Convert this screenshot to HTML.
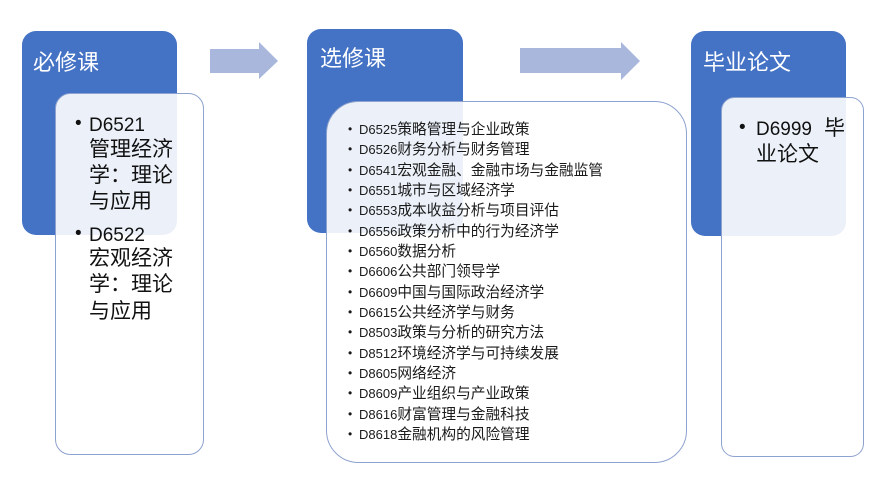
<!DOCTYPE html>
<html>
<head>
<meta charset="utf-8">
<style>
  html,body{margin:0;padding:0;background:#fff;}
  body{width:884px;height:484px;position:relative;overflow:hidden;
    font-family:"Liberation Sans","Noto Sans CJK SC",sans-serif;}
  svg{position:absolute;left:0;top:0;}
  .t{position:absolute;white-space:nowrap;}
  .hdr{color:#fff;font-size:22px;height:30px;line-height:30px;font-family:"Liberation Sans","Noto Sans CJK SC",sans-serif;}
  .big{color:#111;font-size:21px;height:26px;line-height:26px;font-family:"Noto Sans CJK SC",sans-serif;}
  .big .l{font-family:"Liberation Sans",sans-serif;font-size:19px;}
  .sm{color:#1a1a1a;font-size:14.7px;height:20px;line-height:20px;font-family:"Noto Sans CJK SC",sans-serif;}
  .sm .l{font-family:"Liberation Sans",sans-serif;font-size:13px;}
  .b{position:absolute;font-family:"Liberation Sans",sans-serif;}
</style>
</head>
<body>
<svg width="884" height="484" viewBox="0 0 884 484">
  <rect x="22" y="31" width="155" height="204" rx="14" ry="14" fill="#4472C4"/>
  <rect x="307" y="29" width="156" height="204" rx="14" ry="14" fill="#4472C4"/>
  <rect x="691" y="31" width="155" height="205" rx="14" ry="14" fill="#4472C4"/>
  <polygon points="210,49 259,49 259,42 278,61 259,79 259,73 210,73" fill="#A9B7DD"/>
  <polygon points="520,48 621,48 621,42 640,61 621,80 621,73 520,73" fill="#A9B7DD"/>
  <rect x="55.5" y="93.5" width="148" height="361" rx="15" ry="15" fill="#ffffff" fill-opacity="0.9" stroke="#8EA2CF" stroke-width="1"/>
  <rect x="326.5" y="101.5" width="360" height="361" rx="32" ry="32" fill="#ffffff" fill-opacity="0.9" stroke="#8EA2CF" stroke-width="1"/>
  <rect x="721.5" y="97.5" width="142" height="359" rx="13" ry="13" fill="#ffffff" fill-opacity="0.9" stroke="#8EA2CF" stroke-width="1"/>
</svg>

<div class="t hdr" style="left:33px;top:48px;">必修课</div>
<div class="t hdr" style="left:320px;top:44px;">选修课</div>
<div class="t hdr" style="left:703px;top:48px;">毕业论文</div>

<div class="b" style="left:75px;top:111px;font-size:19px;line-height:26px;color:#111;">•</div>
<div class="t big" style="left:89px;top:110px;"><span class="l">D6521</span></div>
<div class="t big" style="left:89px;top:135px;">管理经济</div>
<div class="t big" style="left:89px;top:161px;">学：理论</div>
<div class="t big" style="left:89px;top:187px;">与应用</div>
<div class="b" style="left:75px;top:221px;font-size:19px;line-height:26px;color:#111;">•</div>
<div class="t big" style="left:89px;top:220px;"><span class="l">D6522</span></div>
<div class="t big" style="left:89px;top:244px;">宏观经济</div>
<div class="t big" style="left:89px;top:270px;">学：理论</div>
<div class="t big" style="left:89px;top:297px;">与应用</div>

<div class="b" style="left:739px;top:115px;font-size:19px;line-height:26px;color:#111;">•</div>
<div class="t big" style="left:756px;top:114px;"><span class="l">D6999</span><span style="display:inline-block;width:12px;"></span>毕</div>
<div class="t big" style="left:756px;top:140px;">业论文</div>

<div style="position:absolute;left:348px;top:119px;">
  <div class="sm" style="position:relative;height:20.33px;"><span class="b" style="left:0;font-size:12px;">•</span><span style="position:absolute;left:11px;white-space:nowrap;"><span class="l">D6525</span>策略管理与企业政策</span></div>
  <div class="sm" style="position:relative;height:20.33px;"><span class="b" style="left:0;font-size:12px;">•</span><span style="position:absolute;left:11px;white-space:nowrap;"><span class="l">D6526</span>财务分析与财务管理</span></div>
  <div class="sm" style="position:relative;height:20.33px;"><span class="b" style="left:0;font-size:12px;">•</span><span style="position:absolute;left:11px;white-space:nowrap;"><span class="l">D6541</span>宏观金融、金融市场与金融监管</span></div>
  <div class="sm" style="position:relative;height:20.33px;"><span class="b" style="left:0;font-size:12px;">•</span><span style="position:absolute;left:11px;white-space:nowrap;"><span class="l">D6551</span>城市与区域经济学</span></div>
  <div class="sm" style="position:relative;height:20.33px;"><span class="b" style="left:0;font-size:12px;">•</span><span style="position:absolute;left:11px;white-space:nowrap;"><span class="l">D6553</span>成本收益分析与项目评估</span></div>
  <div class="sm" style="position:relative;height:20.33px;"><span class="b" style="left:0;font-size:12px;">•</span><span style="position:absolute;left:11px;white-space:nowrap;"><span class="l">D6556</span>政策分析中的行为经济学</span></div>
  <div class="sm" style="position:relative;height:20.33px;"><span class="b" style="left:0;font-size:12px;">•</span><span style="position:absolute;left:11px;white-space:nowrap;"><span class="l">D6560</span>数据分析</span></div>
  <div class="sm" style="position:relative;height:20.33px;"><span class="b" style="left:0;font-size:12px;">•</span><span style="position:absolute;left:11px;white-space:nowrap;"><span class="l">D6606</span>公共部门领导学</span></div>
  <div class="sm" style="position:relative;height:20.33px;"><span class="b" style="left:0;font-size:12px;">•</span><span style="position:absolute;left:11px;white-space:nowrap;"><span class="l">D6609</span>中国与国际政治经济学</span></div>
  <div class="sm" style="position:relative;height:20.33px;"><span class="b" style="left:0;font-size:12px;">•</span><span style="position:absolute;left:11px;white-space:nowrap;"><span class="l">D6615</span>公共经济学与财务</span></div>
  <div class="sm" style="position:relative;height:20.33px;"><span class="b" style="left:0;font-size:12px;">•</span><span style="position:absolute;left:11px;white-space:nowrap;"><span class="l">D8503</span>政策与分析的研究方法</span></div>
  <div class="sm" style="position:relative;height:20.33px;"><span class="b" style="left:0;font-size:12px;">•</span><span style="position:absolute;left:11px;white-space:nowrap;"><span class="l">D8512</span>环境经济学与可持续发展</span></div>
  <div class="sm" style="position:relative;height:20.33px;"><span class="b" style="left:0;font-size:12px;">•</span><span style="position:absolute;left:11px;white-space:nowrap;"><span class="l">D8605</span>网络经济</span></div>
  <div class="sm" style="position:relative;height:20.33px;"><span class="b" style="left:0;font-size:12px;">•</span><span style="position:absolute;left:11px;white-space:nowrap;"><span class="l">D8609</span>产业组织与产业政策</span></div>
  <div class="sm" style="position:relative;height:20.33px;"><span class="b" style="left:0;font-size:12px;">•</span><span style="position:absolute;left:11px;white-space:nowrap;"><span class="l">D8616</span>财富管理与金融科技</span></div>
  <div class="sm" style="position:relative;height:20.33px;"><span class="b" style="left:0;font-size:12px;">•</span><span style="position:absolute;left:11px;white-space:nowrap;"><span class="l">D8618</span>金融机构的风险管理</span></div>
</div>
</body>
</html>
